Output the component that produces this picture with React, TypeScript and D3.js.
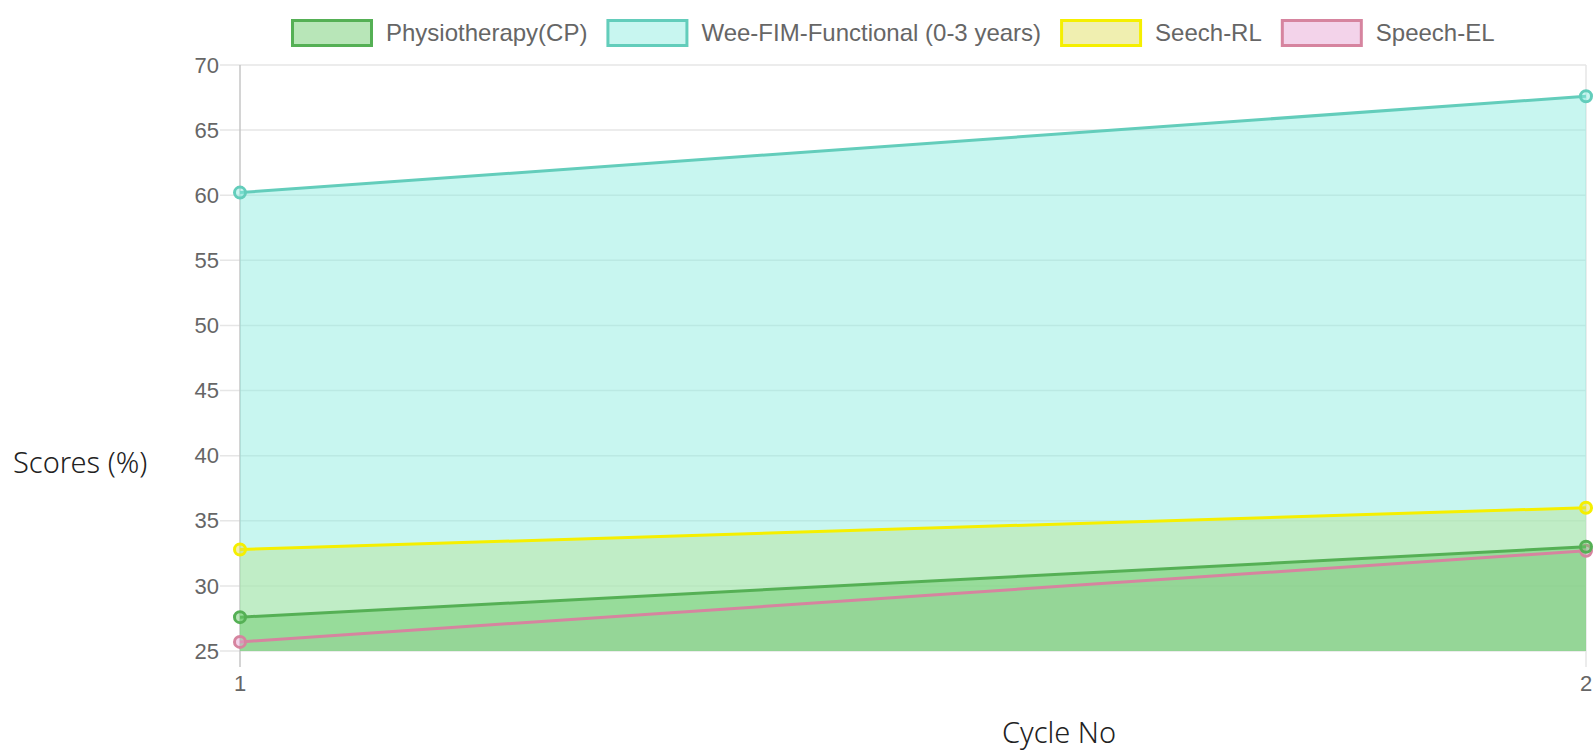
import { useRef, useEffect } from "react";
import * as d3 from "d3";

const cycles = [1, 2];
const seriesNames = ["Physiotherapy(CP)", "Wee-FIM-Functional (0-3 years)", "Seech-RL", "Speech-EL"];
const physio = [27.6, 33.0];
const weeFim = [60.2, 67.6];
const speechRL = [32.8, 36.0];
const speechEL = [25.7, 32.7];
const yTicks = [25, 30, 35, 40, 45, 50, 55, 60, 65, 70];

const strokeColors = ["#55b055", "#63cdbb", "#f5ef00", "#d6849f"];
const fillColors = [
  "rgba(104,202,104,0.47)",
  "rgba(138,236,223,0.47)",
  "rgba(223,221,87,0.47)",
  "rgba(230,162,211,0.47)",
];

export default function App() {
  const svgRef = useRef<SVGSVGElement>(null);

  useEffect(() => {
    if (!svgRef.current) return;
    const svg = d3.select(svgRef.current);
    svg.selectAll("*").remove();

    const plot = { left: 240, right: 1586, top: 65, bottom: 651 };

    const x = d3.scaleLinear().domain([1, 2]).range([plot.left, plot.right]);
    const y = d3.scaleLinear().domain([25, 70]).range([plot.bottom, plot.top]);

    const values = [physio, weeFim, speechRL, speechEL];

    // grid
    const g = svg.append("g");
    g.selectAll(".hgrid")
      .data(yTicks)
      .enter()
      .append("line")
      .attr("x1", plot.left - 20)
      .attr("x2", plot.right)
      .attr("y1", (d) => y(d))
      .attr("y2", (d) => y(d))
      .attr("stroke", "#e6e6e6")
      .attr("stroke-width", 1.5);

    g.selectAll(".vgrid")
      .data(cycles)
      .enter()
      .append("line")
      .attr("x1", (d) => x(d))
      .attr("x2", (d) => x(d))
      .attr("y1", plot.top)
      .attr("y2", plot.bottom + 16)
      .attr("stroke", (d, i) => (i === 0 ? "#c6c6c6" : "#e6e6e6"))
      .attr("stroke-width", 1.5);

    // y tick labels
    g.selectAll(".ylab")
      .data(yTicks)
      .enter()
      .append("text")
      .attr("x", plot.left - 21)
      .attr("y", (d) => y(d))
      .attr("dy", "0.35em")
      .attr("text-anchor", "end")
      .attr("fill", "#666")
      .attr("font-family", "Liberation Sans, Arial, sans-serif")
      .attr("font-size", 22)
      .text((d) => d);

    // x tick labels
    g.selectAll(".xlab")
      .data(cycles)
      .enter()
      .append("text")
      .attr("x", (d) => x(d))
      .attr("y", plot.bottom + 32)
      .attr("dy", "0.35em")
      .attr("text-anchor", "middle")
      .attr("fill", "#666")
      .attr("font-family", "Liberation Sans, Arial, sans-serif")
      .attr("font-size", 22)
      .text((d) => d);

    // areas, drawn last dataset first
    const area = d3
      .area<number>()
      .x((_, i) => x(cycles[i]))
      .y0(y(25))
      .y1((d) => y(d));
    const line = d3
      .line<number>()
      .x((_, i) => x(cycles[i]))
      .y((d) => y(d));

    const order = [3, 2, 1, 0];
    order.forEach((k) => {
      g.append("path").attr("d", area(values[k])).attr("fill", fillColors[k]);
    });
    order.forEach((k) => {
      g.append("path")
        .attr("d", line(values[k]))
        .attr("fill", "none")
        .attr("stroke", strokeColors[k])
        .attr("stroke-width", 3);
      g.selectAll(null)
        .data(values[k])
        .enter()
        .append("circle")
        .attr("cx", (_, i) => x(cycles[i]))
        .attr("cy", (d) => y(d))
        .attr("r", 5.5)
        .attr("fill", fillColors[k])
        .attr("stroke", strokeColors[k])
        .attr("stroke-width", 3);
    });

    // legend
    const leg = svg.append("g");
    let lx = 291;
    const boxW = 82;
    const boxH = 25;
    const ly = 33;
    seriesNames.forEach((name, k) => {
      leg.append("rect")
        .attr("x", lx + 1.5)
        .attr("y", ly - boxH / 2)
        .attr("width", boxW - 3)
        .attr("height", boxH)
        .attr("fill", fillColors[k])
        .attr("stroke", strokeColors[k])
        .attr("stroke-width", 3);
      const t = leg.append("text")
        .attr("x", lx + boxW + 13)
        .attr("y", ly)
        .attr("dy", "0.35em")
        .attr("fill", "#666")
        .attr("font-family", "Liberation Sans, Arial, sans-serif")
        .attr("font-size", 24)
        .text(name);
      const tw = (t.node() as SVGTextElement).getComputedTextLength();
      lx += boxW + 13 + tw + 19;
    });

    // axis titles
    svg.append("text")
      .attr("x", 13)
      .attr("y", 463)
      .attr("dy", "0.35em")
      .attr("fill", "#222")
      .attr("font-family", "Noto Sans, Open Sans, sans-serif")
      .attr("font-weight", 300)
      .attr("font-size", 29)
      .text("Scores (%)");

    svg.append("text")
      .attr("x", (plot.left + plot.right) / 2 + 146)
      .attr("y", 733)
      .attr("dy", "0.35em")
      .attr("text-anchor", "middle")
      .attr("fill", "#222")
      .attr("font-family", "Noto Sans, Open Sans, sans-serif")
      .attr("font-weight", 300)
      .attr("font-size", 29)
      .text("Cycle No");
  }, []);

  return (
    <div style={{ position: "absolute", left: 0, top: 0, width: 1594, height: 751, background: "#fff" }}>
      <svg ref={svgRef} width={1594} height={751} />
    </div>
  );
}
